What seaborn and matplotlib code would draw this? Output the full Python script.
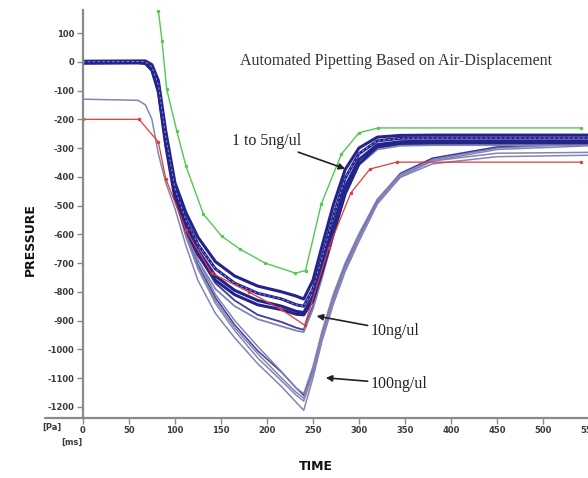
import numpy as np
import pandas as pd
import matplotlib
matplotlib.use('Agg')
import matplotlib.pyplot as plt
import seaborn as sns

# time grid (ms) shared by the measured pipetting traces
t = [0, 60, 68, 75, 82, 90, 100, 112, 125, 144, 165, 190, 216, 232, 240,
     250, 260, 272, 285, 300, 320, 345, 380, 450, 550]

# 1 to 5 ng/ul bundle
b1 = [2, 3, 3, -10, -65, -240, -420, -525, -610, -695, -745, -780, -800, -815, -825,
      -760, -640, -500, -375, -300, -262, -256, -255, -255, -255]
b2 = [0, 1, 0, -18, -80, -260, -440, -550, -635, -720, -770, -805, -825, -845, -850,
      -790, -680, -540, -405, -320, -275, -266, -265, -265, -265]
b3 = [-3, -2, -4, -25, -95, -280, -460, -570, -655, -745, -795, -830, -850, -868, -872,
      -815, -710, -575, -435, -340, -288, -278, -276, -276, -276]
b4 = [-5, -4, -6, -30, -105, -290, -475, -585, -670, -760, -810, -845, -862, -878, -880,
      -830, -730, -600, -460, -355, -295, -283, -281, -281, -281]

# 10 ng/ul
m1 = [0, 1, 0, -20, -90, -270, -455, -575, -670, -770, -830, -880, -905, -925, -932,
      -850, -740, -600, -450, -355, -300, -288, -286, -286, -286]
m2 = [-2, -1, -3, -25, -100, -285, -470, -590, -690, -790, -850, -895, -920, -935, -940,
      -860, -750, -610, -460, -360, -305, -292, -290, -290, -290]

# 100 ng/ul
c0 = [-130, -134, -150, -200, -320, -420, -510, -640, -760, -875, -960, -1050, -1130, -1185, -1212,
      -1100, -970, -845, -730, -625, -495, -400, -345, -305, -292]
c1 = [0, 0, -2, -20, -110, -290, -470, -610, -720, -840, -935, -1030, -1110, -1160, -1180,
      -1085, -960, -835, -722, -615, -488, -395, -340, -300, -285]
c2 = [-2, -1, -3, -25, -110, -290, -465, -600, -705, -820, -915, -1005, -1080, -1135, -1160,
      -1070, -945, -820, -710, -605, -480, -388, -335, -296, -280]
c3 = [0, 0, -1, -20, -105, -285, -460, -590, -690, -809, -900, -990, -1078, -1135, -1154,
      -1060, -935, -810, -700, -598, -478, -392, -345, -318, -315]
c4 = [1, 0, -2, -22, -108, -288, -468, -605, -712, -830, -925, -1015, -1100, -1150, -1170,
      -1078, -952, -826, -716, -610, -492, -402, -355, -330, -325]

# reference curves
red_t = [0, 61, 82, 90, 112, 140, 180, 215, 241, 267, 291, 312, 341, 541]
red_p = [-200, -200, -279, -406, -586, -735, -800, -860, -916, -649, -457, -373, -349, -349]
green_t = [76, 82, 86, 91, 102, 112, 131, 151, 171, 198, 231, 242, 259, 281, 300, 321, 541]
green_p = [330, 178, 73, -94, -240, -363, -530, -607, -652, -700, -735, -726, -495, -321, -247, -230, -230]

navy = '#23238c'
mid = '#3d3d9e'
lav = '#8484b4'

sns.set_style('white')
plt.rcParams['axes.unicode_minus'] = False

fig = plt.figure(figsize=(5.88, 4.78), dpi=100)
ax = fig.add_axes([0.141, 0.126, 0.870, 0.853])


def long(curves):
    return pd.concat([pd.DataFrame({'time': t, 'pressure': v, 'curve': k})
                      for k, v in curves.items()], ignore_index=True)


hundred = long({'c0': c0, 'c1': c1, 'c2': c2, 'c3': c3, 'c4': c4})
sns.lineplot(data=hundred, x='time', y='pressure', hue='curve',
             palette={'c0': lav, 'c1': lav, 'c2': mid, 'c3': lav, 'c4': lav},
             units='curve', estimator=None, legend=False, linewidth=1.1, ax=ax)

ten = long({'m1': m1, 'm2': m2})
sns.lineplot(data=ten, x='time', y='pressure', hue='curve',
             palette={'m1': mid, 'm2': lav}, units='curve', estimator=None,
             legend=False, linewidth=1.3, ax=ax)

bundle = long({'b1': b1, 'b2': b2, 'b3': b3, 'b4': b4})
sns.lineplot(data=bundle, x='time', y='pressure', hue='curve',
             palette={'b1': navy, 'b2': navy, 'b3': navy, 'b4': navy},
             units='curve', estimator=None, legend=False, linewidth=2.2, ax=ax)
# marker texture running through the bundle
sns.lineplot(x=t, y=b2, color='#8c8cd0', linewidth=0.7, dashes=False, ax=ax,
             linestyle=(0, (2.5, 2.5)))

sns.lineplot(x=red_t, y=red_p, color='#e23a3a', linewidth=0.9, marker='o',
             markersize=2.5, markeredgewidth=0, ax=ax)
sns.lineplot(x=green_t, y=green_p, color='#52c852', linewidth=1.0, marker='o',
             markersize=2.5, markeredgewidth=0, ax=ax)

ax.set_xlim(0, 556)
ax.set_ylim(-1238, 180)
ax.set_xticks(np.arange(0, 551, 50))
ax.set_yticks(np.arange(-1200, 101, 100))
for s in ['top', 'right']:
    ax.spines[s].set_visible(False)
for s in ['left', 'bottom']:
    ax.spines[s].set_color('#8a8a8a')
    ax.spines[s].set_linewidth(1.6)
ax.tick_params(axis='both', direction='out', length=4, width=1, color='#8a8a8a',
               labelsize=6, labelcolor='#3a3a3a', pad=2, left=True, bottom=True)
for lab in ax.get_xticklabels() + ax.get_yticklabels():
    lab.set_fontweight('bold')
ax.set_xlabel('')
ax.set_ylabel('')

# extended baseline with unit labels
ax.plot([-0.074, 0], [0, 0], transform=ax.transAxes, color='#8a8a8a', lw=1.6, clip_on=False)
ax.text(-0.06, -0.012, '[Pa]', transform=ax.transAxes, fontsize=6, fontweight='bold',
        color='#3a3a3a', ha='center', va='top')
ax.text(-0.022, -0.05, '[ms]', transform=ax.transAxes, fontsize=6, fontweight='bold',
        color='#3a3a3a', ha='center', va='top')

fig.text(30 / 588, 1 - 240 / 478, 'PRESSURE', rotation=90, fontsize=9, fontweight='bold',
         ha='center', va='center', color='#111111')
fig.text(316 / 588, 1 - 467 / 478, 'TIME', fontsize=9, fontweight='bold',
         ha='center', va='center', color='#111111')

serif = ['Liberation Serif', 'DejaVu Serif']
ax.text(340, 3, 'Automated Pipetting Based on Air-Displacement', family=serif,
        fontsize=11.5, ha='center', va='center', color='#333333')
ax.annotate('1 to 5ng/ul', xy=(285, -372), xytext=(237, -275), family=serif, fontsize=11.5,
            ha='right', va='center', color='#222222',
            arrowprops=dict(arrowstyle='-|>', color='#222222', lw=1.2, mutation_scale=9,
                            shrinkA=0, shrinkB=0))
ax.annotate('10ng/ul', xy=(254, -884), xytext=(313, -935), family=serif, fontsize=11.5,
            ha='left', va='center', color='#222222',
            arrowprops=dict(arrowstyle='-|>', color='#222222', lw=1.2, mutation_scale=9,
                            shrinkA=0, shrinkB=0))
ax.annotate('100ng/ul', xy=(264, -1099), xytext=(313, -1120), family=serif, fontsize=11.5,
            ha='left', va='center', color='#222222',
            arrowprops=dict(arrowstyle='-|>', color='#222222', lw=1.2, mutation_scale=9,
                            shrinkA=0, shrinkB=0))

fig.savefig('out.png', dpi=100)
